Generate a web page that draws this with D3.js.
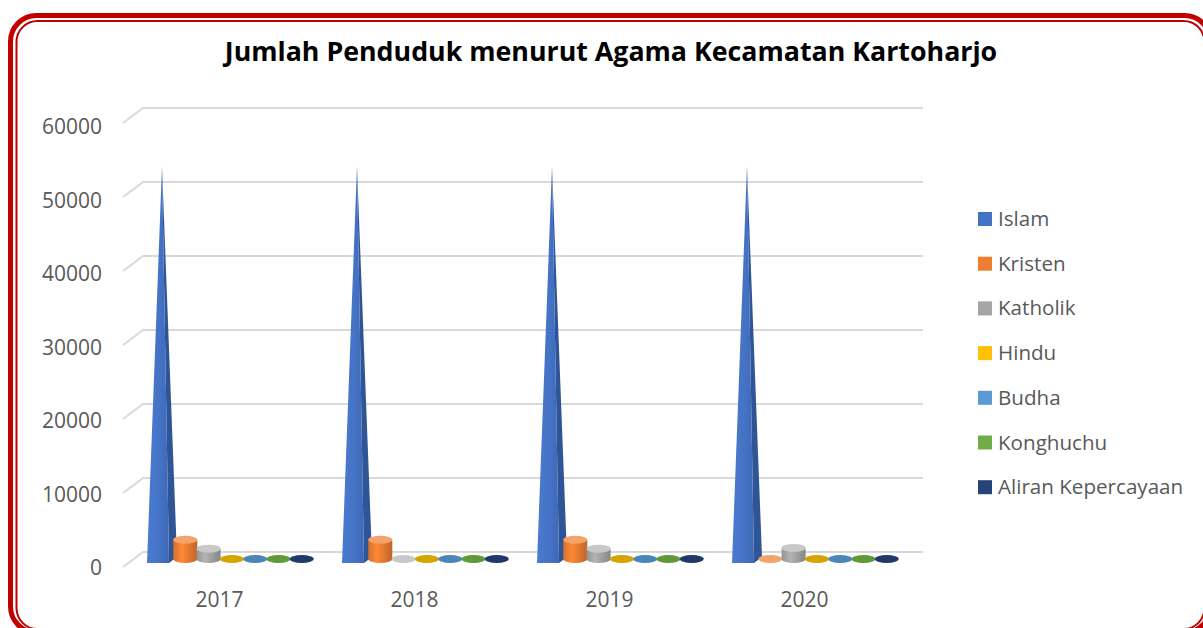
<!DOCTYPE html>
<html>
<head>
<meta charset="utf-8">
<script src="https://cdn.jsdelivr.net/npm/d3@7"></script>
<style>
  body { margin: 0; background: #fff; }
  svg { display: block; font-family: "Open Sans", sans-serif; }
</style>
</head>
<body>
<div id="chart"></div>
<script>
// data
var years = ["2017", "2018", "2019", "2020"];
var religions = ["Islam", "Kristen", "Katholik", "Hindu", "Budha", "Konghuchu", "Aliran Kepercayaan"];
var islam    = [53200, 53200, 53200, 53200];
var kristen  = [2600, 2600, 2600, 120];
var katholik = [1400, 60, 1400, 1500];
var hindu    = [20, 20, 20, 20];
var budha    = [30, 30, 30, 30];
var konghuchu = [10, 10, 10, 10];
var aliran   = [10, 10, 10, 10];
var yTicks = [0, 10000, 20000, 30000, 40000, 50000, 60000];
var colors = ["#4472C4", "#ED7D31", "#A5A5A5", "#FFC000", "#5B9BD5", "#70AD47", "#264478"];
var sideColors = ["#2F5597", "#B85B1E", "#7F7F7F", "#C49000", "#3F7AB0", "#52832F", "#1A2F55"];
var topColors = ["#4472C4", "#F4A36A", "#C8C8C8", "#D4A400", "#4A86B8", "#5E9A3A", "#1F3A68"];

var seriesValues = [islam, kristen, katholik, hindu, budha, konghuchu, aliran];

var W = 1203, H = 628;
var svg = d3.select("#chart").append("svg").attr("width", W).attr("height", H);

// border: double red rounded frame (right and bottom run past the window)
svg.append("rect").attr("x", 10.5).attr("y", 15.5).attr("width", 1200).attr("height", 617)
  .attr("rx", 26).attr("fill", "#fff").attr("stroke", "#C00000").attr("stroke-width", 5);
svg.append("rect").attr("x", 16.5).attr("y", 21).attr("width", 1188).attr("height", 608)
  .attr("rx", 21).attr("fill", "none").attr("stroke", "#C00000").attr("stroke-width", 2);

// title
var title = svg.append("text").attr("x", 611).attr("y", 61).attr("text-anchor", "middle")
  .attr("font-weight", "bold").attr("font-size", 25).attr("fill", "#000")
  .text("Jumlah Penduduk menurut Agama Kecamatan Kartoharjo");
var tw = title.node().getComputedTextLength();
title.attr("font-size", 25 * 773 / tw);

// 3d frame
var DX = 20, DY = -15;
var yBack = d3.scaleLinear().domain([0, 60000]).range([552, 108]);
var x = d3.scaleBand().domain(years).range([123, 903]);
var xs = d3.scaleBand().domain(religions).range([24, 24 + 7 * 23.3]).padding(0);

var grid = svg.append("g");
yTicks.forEach(function(t) {
  var y = yBack(t);
  grid.append("path")
    .attr("d", "M" + (123) + "," + (y - DY) + "L" + (123 + DX) + "," + y + "L923," + y)
    .attr("fill", "none").attr("stroke", "#D9D9D9").attr("stroke-width", 2);
});

// y labels
svg.append("g").selectAll("text").data(yTicks).enter().append("text")
  .attr("x", 102).attr("y", function(d) { return yBack(d) - DY + 8 + 3 * d / 60000; })
  .attr("text-anchor", "end").attr("font-size", 21).attr("fill", "#595959")
  .text(function(d) { return d; });

// x labels
svg.append("g").selectAll("text").data(years).enter().append("text")
  .attr("x", function(d) { return x(d) + x.bandwidth() / 2 - 1; }).attr("y", 607)
  .attr("text-anchor", "middle").attr("font-size", 21).attr("fill", "#595959")
  .text(function(d) { return d; });

// bars
var defs = svg.append("defs");
var pg = defs.append("linearGradient").attr("id", "pyr").attr("x1", 0).attr("x2", 1).attr("y1", 0).attr("y2", 0);
pg.append("stop").attr("offset", 0).attr("stop-color", "#4A7BD0");
pg.append("stop").attr("offset", 0.6).attr("stop-color", "#4472C4");
pg.append("stop").attr("offset", 1).attr("stop-color", "#3D68B5");

colors.forEach(function(c, i) {
  var g = defs.append("linearGradient").attr("id", "cyl" + i).attr("x1", 0).attr("x2", 1).attr("y1", 0).attr("y2", 0);
  g.append("stop").attr("offset", 0).attr("stop-color", d3.color(c).darker(0.3));
  g.append("stop").attr("offset", 0.35).attr("stop-color", d3.color(c).brighter(0.25));
  g.append("stop").attr("offset", 1).attr("stop-color", d3.color(c).darker(0.6));
});

var bw = 22, bdx = 8, bdy = -6, base = 563;
var yBar = d3.scaleLinear().domain([0, 60000]).range([base, base - 444]);
var bars = svg.append("g");

years.forEach(function(yr, ci) {
  religions.forEach(function(rel, si) {
    var v = seriesValues[si][ci];
    var bx = x(yr) + xs(rel);
    var cx = bx + bw / 2 + bdx / 2;
    if (si === 0) {
      // pyramid
      var ax = cx, ay = yBar(v) + bdy / 2;
      bars.append("path")
        .attr("d", "M" + (bx + bw) + "," + base + "L" + (bx + bw + bdx) + "," + (base + bdy) + "L" + ax + "," + ay + "Z")
        .attr("fill", sideColors[0]);
      bars.append("path")
        .attr("d", "M" + bx + "," + base + "L" + (bx + bw) + "," + base + "L" + ax + "," + ay + "Z")
        .attr("fill", "url(#pyr)");
    } else {
      // cylinder
      var rx = 12, ry = 4;
      var by = base + bdy / 2 - 1;
      var ty = yBar(v) + bdy / 2 - 1;
      if (by - ty > 1.5) {
        bars.append("path")
          .attr("d", "M" + (cx - rx) + "," + ty + "L" + (cx - rx) + "," + by +
            "A" + rx + "," + ry + " 0 0 0 " + (cx + rx) + "," + by +
            "L" + (cx + rx) + "," + ty + "Z")
          .attr("fill", "url(#cyl" + si + ")");
        bars.append("ellipse").attr("cx", cx).attr("cy", ty).attr("rx", rx).attr("ry", ry)
          .attr("fill", topColors[si]);
      } else {
        bars.append("ellipse").attr("cx", cx).attr("cy", by).attr("rx", rx).attr("ry", ry)
          .attr("fill", topColors[si]);
      }
    }
  });
});

// legend
var lg = svg.append("g").selectAll("g").data(religions).enter().append("g")
  .attr("transform", function(d, i) { return "translate(978," + (219 + i * 44.7) + ")"; });
lg.append("rect").attr("x", 0).attr("y", -7).attr("width", 14).attr("height", 14)
  .attr("fill", function(d, i) { return colors[i]; });
lg.append("text").attr("x", 20).attr("y", 7).attr("font-size", 20.6).attr("fill", "#595959")
  .text(function(d) { return d; });
</script>
</body>
</html>
